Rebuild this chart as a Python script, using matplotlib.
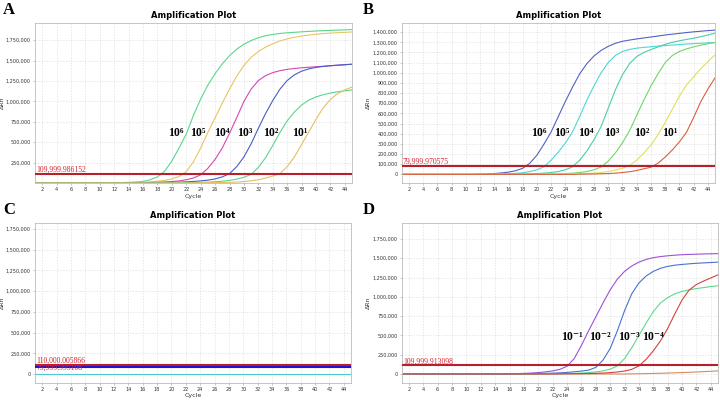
import matplotlib
matplotlib.use('Agg')
import matplotlib.pyplot as plt

plt.rcParams['font.family'] = 'DejaVu Sans'

cycles = list(range(1, 46))

# values in thousands (delta Rn / 1000) per cycle
# panel A
a_e6 = [0, 0, 0, 0, 0, 0, 0, 0, 0, 1, 2, 3, 5, 8, 12, 20, 40, 75, 145, 270, 430, 600, 830,
        1030, 1200, 1340, 1460, 1560, 1640, 1700, 1745, 1780, 1805, 1820, 1832, 1840, 1846,
        1852, 1857, 1862, 1866, 1870, 1873, 1876, 1880]
a_e5 = [0, 0, 0, 0, 0, 0, 0, 0, 0, 0, 1, 1, 2, 4, 6, 10, 15, 22, 32, 50, 80, 140, 260, 430,
        620, 800, 980, 1150, 1310, 1440, 1540, 1610, 1665, 1705, 1740, 1765, 1785, 1800, 1812,
        1822, 1830, 1836, 1841, 1846, 1850]
a_e4 = [0, 0, 0, 0, 0, 0, 0, 0, 0, 0, 0, 0, 1, 1, 2, 4, 6, 9, 13, 18, 26, 40, 62, 100, 180,
        290, 430, 610, 800, 1000, 1150, 1255, 1315, 1352, 1376, 1392, 1403, 1411, 1418, 1424,
        1430, 1436, 1442, 1448, 1455]
a_e3 = [0, 0, 0, 0, 0, 0, 0, 0, 0, 0, 0, 0, 0, 0, 1, 1, 2, 3, 5, 7, 10, 14, 19, 26, 35, 50,
        75, 115, 200, 320, 480, 670, 850, 1010, 1150, 1255, 1325, 1370, 1398, 1416, 1428, 1437,
        1444, 1450, 1455]
a_e2 = [0, 0, 0, 0, 0, 0, 0, 0, 0, 0, 0, 0, 0, 0, 0, 0, 0, 0, 2, 3, 4, 5, 6, 8, 10, 15, 22,
        32, 48, 70, 105, 190, 310, 460, 620, 760, 870, 955, 1015, 1055, 1082, 1102, 1117, 1130,
        1140]
a_e1 = [0, 0, 0, 0, 0, 0, 0, 0, 0, 0, 0, 0, 0, 0, 0, 0, 0, 0, 0, 0, 0, 0, 2, 3, 4, 5, 6, 8,
        12, 18, 27, 40, 60, 85, 115, 200, 320, 470, 625, 780, 920, 1025, 1095, 1140, 1175]

# panel B
b_e6 = [0, 0, 0, 0, 0, 0, 0, 0, 0, 0, 0, 2, 4, 8, 14, 22, 36, 60, 110, 190, 300, 420, 570,
        720, 860, 990, 1090, 1165, 1220, 1260, 1290, 1310, 1322, 1333, 1343, 1352, 1362, 1372,
        1380, 1388, 1396, 1403, 1409, 1415, 1420]
b_e5 = [0, 0, 0, 0, 0, 0, 0, 0, 0, 0, 0, 0, 2, 3, 4, 6, 10, 16, 28, 45, 75, 140, 220, 310,
        420, 570, 730, 870, 1000, 1100, 1170, 1210, 1230, 1242, 1250, 1256, 1262, 1268, 1273,
        1278, 1283, 1287, 1291, 1295, 1298]
b_e4 = [0, 0, 0, 0, 0, 0, 0, 0, 0, 0, 0, 0, 0, 0, 0, 2, 3, 5, 6, 8, 12, 18, 28, 45, 75, 140,
        230, 340, 470, 650, 830, 980, 1090, 1160, 1200, 1228, 1255, 1280, 1300, 1315, 1328,
        1340, 1355, 1372, 1390]
b_e3 = [0, 0, 0, 0, 0, 0, 0, 0, 0, 0, 0, 0, 0, 0, 0, 0, 0, 0, 0, 2, 3, 4, 6, 8, 12, 18, 28,
        45, 72, 130, 210, 310, 430, 580, 730, 870, 990, 1100, 1170, 1210, 1235, 1255, 1272,
        1286, 1298]
b_e2 = [0, 0, 0, 0, 0, 0, 0, 0, 0, 0, 0, 0, 0, 0, 0, 0, 0, 0, 0, 0, 0, 2, 3, 4, 5, 6, 8, 12,
        18, 28, 42, 60, 88, 140, 210, 290, 390, 510, 640, 770, 880, 960, 1040, 1110, 1175]
b_e1 = [0, 0, 0, 0, 0, 0, 0, 0, 0, 0, 0, 0, 0, 0, 0, 0, 0, 0, 0, 0, 0, 0, 0, 0, 0, 2, 3, 4,
        6, 8, 12, 18, 26, 38, 55, 70, 110, 170, 240, 320, 415, 560, 715, 840, 950]

# panel C (no amplification)
c_flat = [0] * 45

# panel D
d_e1 = [0, 0, 0, 0, 0, 0, 0, 0, 0, 0, 0, 0, 0, 0, 0, 3, 5, 8, 12, 18, 27, 40, 60, 100, 200,
        370, 560, 740, 920, 1090, 1230, 1330, 1400, 1450, 1485, 1508, 1522, 1532, 1540, 1546,
        1550, 1553, 1556, 1558, 1560]
d_e2 = [0, 0, 0, 0, 0, 0, 0, 0, 0, 0, 0, 0, 0, 0, 0, 0, 0, 2, 4, 6, 8, 11, 15, 20, 28, 38,
        50, 85, 180, 330, 560, 820, 1040, 1180, 1270, 1330, 1370, 1395, 1410, 1420, 1428, 1435,
        1440, 1445, 1450]
d_e3 = [0, 0, 0, 0, 0, 0, 0, 0, 0, 0, 0, 0, 0, 0, 0, 0, 0, 0, 0, 0, 2, 3, 4, 6, 8, 12, 18,
        26, 40, 62, 105, 200, 340, 500, 660, 810, 920, 990, 1040, 1070, 1090, 1107, 1120, 1133,
        1144]
d_e4 = [0, 0, 0, 0, 0, 0, 0, 0, 0, 0, 0, 0, 0, 0, 0, 0, 0, 0, 0, 0, 0, 0, 2, 3, 4, 5, 6, 8,
        12, 18, 26, 38, 60, 105, 190, 300, 430, 590, 780, 960, 1090, 1160, 1205, 1245, 1285]
d_low = [0, 0, 0, 0, 0, 0, 0, 0, 0, 0, 0, 0, 0, 0, 0, 0, 0, 0, 0, 0, 0, 0, 0, 0, 0, 0, 0, 0,
         0, 0, 0, 0, 2, 3, 5, 7, 9, 12, 15, 18, 22, 26, 30, 35, 40]

thr_a = 109999.986152
thr_b = 79999.970575
thr_c_red = 110000.005866
thr_c_blue = 79999.995108
thr_d = 109999.913098

labels_a = ['10⁶', '10⁵', '10⁴', '10³', '10²', '10¹']
label_x_a = [20.5, 23.6, 26.9, 30.1, 33.7, 37.7]
labels_b = ['10⁶', '10⁵', '10⁴', '10³', '10²', '10¹']
label_x_b = [20.2, 23.5, 26.8, 30.5, 34.7, 38.7]
labels_d = ['10⁻¹', '10⁻²', '10⁻³', '10⁻⁴']
label_x_d = [24.7, 28.6, 32.6, 35.9]

fig = plt.figure(figsize=(7.2, 4.0), dpi=100)


def make_ax(left, top, right, bottom):
    return fig.add_axes([left / 720, 1 - bottom / 400, (right - left) / 720, (bottom - top) / 400])


def setup(ax, ylim, yticks):
    ax.set_xlim(1, 45)
    ax.set_ylim(*ylim)
    ax.set_xticks(range(2, 46, 2))
    ax.set_yticks(yticks)
    ax.set_yticklabels(['{:,}'.format(v) for v in yticks])
    ax.tick_params(labelsize=3.5, length=1.5, width=0.4, color='#999999', pad=1.5,
                   labelcolor='#333333')
    ax.grid(True, color='#dddddd', linestyle=(0, (2, 2)), linewidth=0.5)
    ax.set_axisbelow(True)
    for s in ax.spines.values():
        s.set_color('#bbbbbb')
        s.set_linewidth(0.6)
    ax.set_title('Amplification Plot', fontsize=6, fontweight='bold', pad=3.5)
    ax.set_xlabel('Cycle', fontsize=4.5, labelpad=1, color='#333333')
    ax.set_ylabel('ΔRn', fontsize=4.5, labelpad=1, color='#333333')


def threshold(ax, value, text, color='#b81f2a', tcolor='#d2202c', va='bottom'):
    ax.axhline(value, color=color, linewidth=1.5, zorder=4)
    ax.text(1.15, value, text, color=tcolor, fontsize=5.5, family='Liberation Serif',
            va=va, ha='left', zorder=5)


def k(vals):
    return [v * 1000 for v in vals]


lab_font = dict(fontsize=8.5, ha='center', va='center', color='black', zorder=6,
                fontweight='bold', family=['Liberation Serif', 'DejaVu Serif'])

# A
ax = make_ax(35, 23, 352, 183)
setup(ax, (0, 1960000), list(range(250000, 1750001, 250000)))
ax.plot(cycles, k(a_e6), color='#5bd68c', lw=0.8)
ax.plot(cycles, k(a_e5), color='#e8c462', lw=0.8)
ax.plot(cycles, k(a_e4), color='#d846b4', lw=0.8)
ax.plot(cycles, k(a_e3), color='#4a5cc8', lw=0.8)
ax.plot(cycles, k(a_e2), color='#5bd68c', lw=0.8)
ax.plot(cycles, k(a_e1), color='#e8be62', lw=0.8)
threshold(ax, thr_a, '109,999.986152')
for lab, x in zip(labels_a, label_x_a):
    ax.text(x, 611000, lab, **lab_font)

# B
ax = make_ax(401.7, 23, 715, 183)
setup(ax, (-85000, 1490000), list(range(0, 1400001, 100000)))
ax.plot(cycles, k(b_e6), color='#5560c4', lw=0.8)
ax.plot(cycles, k(b_e5), color='#4ed6d6', lw=0.8)
ax.plot(cycles, k(b_e4), color='#48cfa8', lw=0.8)
ax.plot(cycles, k(b_e3), color='#6fd868', lw=0.8)
ax.plot(cycles, k(b_e2), color='#e0e05a', lw=0.8)
ax.plot(cycles, k(b_e1), color='#d8603e', lw=0.8)
threshold(ax, thr_b, '79,999.970575')
for lab, x in zip(labels_b, label_x_b):
    ax.text(x, 404000, lab, **lab_font)

# C
ax = make_ax(35, 222.7, 351, 382.7)
setup(ax, (-105000, 1826000), list(range(0, 1750001, 250000)))
ax.plot(cycles, k(c_flat), color='#4cc8d2', lw=0.8)
threshold(ax, thr_c_blue, '79,999.995108', color='#1515e0', va='center')
threshold(ax, thr_c_red, '110,000.005866')

# D
ax = make_ax(401.7, 222.7, 718, 382.7)
setup(ax, (-113000, 1961000), list(range(0, 1750001, 250000)))
ax.plot(cycles, k(d_low), color='#d88a60', lw=0.8)
ax.plot(cycles, k(d_e1), color='#9b52d8', lw=0.8)
ax.plot(cycles, k(d_e2), color='#4a70d2', lw=0.8)
ax.plot(cycles, k(d_e3), color='#5ed88c', lw=0.8)
ax.plot(cycles, k(d_e4), color='#d2443a', lw=0.8)
threshold(ax, thr_d, '109,999.913098')
for lab, x in zip(labels_d, label_x_d):
    ax.text(x, 483000, lab, **lab_font)

for letter, x, y in [('A', 3, 2), ('B', 363, 2), ('C', 3, 202), ('D', 363, 202)]:
    fig.text(x / 720, 1 - y / 400, letter, fontsize=12, fontweight='bold',
             family='Liberation Serif', va='top', ha='left')

fig.savefig('out.png', dpi=100)
